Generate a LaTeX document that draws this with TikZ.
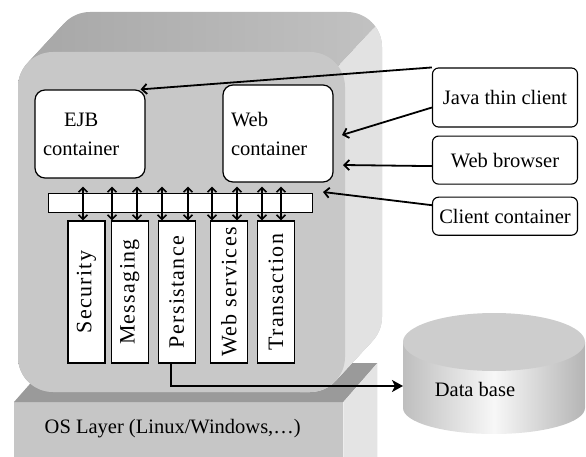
\documentclass[tikz,border=0pt]{standalone}
\usepackage{fontspec}
\setmainfont{Liberation Serif}
\usepackage{graphicx}
\usepackage{xcolor}
\usepackage{tikz}
\usetikzlibrary{arrows.meta, positioning, calc}
\definecolor{srvfront}{HTML}{C8C8C8}
\definecolor{srvtop}{HTML}{A9A9A9}
\definecolor{srvtopr}{HTML}{C2C2C2}
\definecolor{srvside}{HTML}{E2E2E2}
\definecolor{osfront}{HTML}{C6C6C6}
\definecolor{ostop}{HTML}{9A9A9A}
\definecolor{osside}{HTML}{E4E4E4}
\definecolor{dbtop}{HTML}{CDCDCD}
\definecolor{dbside}{HTML}{BEBEBE}
\newcommand{\vlabel}[1]{\rotatebox{90}{#1}}
\tikzset{
  ctr/.style={rectangle, rounded corners=10pt, draw, line width=1.2pt, fill=white, minimum width=110pt, align=left, text width=94pt, inner xsep=8pt},
  svc/.style={rectangle, draw, line width=1.1pt, fill=white, minimum width=37pt, minimum height=142pt, inner sep=0pt, font=\rmfamily\fontsize{22}{24}\selectfont\addfontfeature{LetterSpace=6}},
  client/.style={rectangle, rounded corners=6pt, draw, line width=1.1pt, fill=white, minimum width=145pt, align=center},
  arr/.style={-{Straight Barb[length=5pt,width=10pt]}, line width=1.8pt},
  dbl/.style={{Straight Barb[length=4.5pt,width=9pt]}-{Straight Barb[length=4.5pt,width=9pt]}, line width=1.6pt},
  dbarr/.style={-{Stealth[length=11pt,width=12pt,inset=3pt]}, line width=1.8pt},
}
\begin{document}
\begin{tikzpicture}[x=1pt, y=-1pt, font=\rmfamily\fontsize{20.5}{29}\selectfont]
  \useasboundingbox (0,0) rectangle (586,457);

  % OS layer block
  \node[fill=osfront, minimum width=329pt, minimum height=56pt, anchor=north west, inner sep=0pt, text depth=8pt] (os) at (14,402)
    {OS Layer (Linux/Windows,\dots)\hspace*{12pt}};
  \fill[ostop] (os.north west) -- (os.north east) -- ++(34,-39) -- ++(-329,0) -- cycle;
  \fill[osside] (os.north east) -- ++(34,-39) -- ++(0,100) -- (os.south east) -- cycle;

  % server body, extruded towards the back
  \foreach \k in {0,...,20}
    \shade[left color=srvtop, right color=srvtopr, rounded corners=35pt, shift={({\k*1.85},{-\k*2})}] (18,52) rectangle (345,392);
  \begin{scope}
    \clip (300,108) -- (400,0) -- (420,0) -- (420,460) -- (300,460) -- cycle;
    \foreach \k in {0,...,20}
      \fill[srvside, rounded corners=35pt, shift={({\k*1.85},{-\k*2})}] (18,52) rectangle (345,392);
  \end{scope}
  \fill[srvfront, rounded corners=35pt] (18,52) rectangle (345,392);

  % containers
  \node[ctr, minimum height=88pt] (ejb) at (90,134) {\hspace*{21pt}EJB\\container};
  \node[ctr, minimum height=97pt] (web) at (278,133.5) {Web\\container};
  \node[draw, fill=white, line width=0.9pt, minimum width=264pt, minimum height=19pt, inner sep=0pt] (bar) at (180,202.5) {};

  % services
  \node[svc] (sec) at (86.5,292) {\vlabel{Security}};
  \node[svc, right=5pt of sec] (msg) {\vlabel{Messaging}};
  \node[svc, right=9pt of msg] (pers) {\vlabel{Persistance}};
  \node[svc, right=14pt of pers] (ws) {\vlabel{Web services}};
  \node[svc, right=9pt of ws] (tx) {\vlabel{Transaction}};
  \foreach \x/\s in {83/sec, 112/msg, 137/msg, 162/pers, 188/pers, 212/ws, 237/ws, 262/tx, 281/tx}
    \draw[dbl] ([yshift=6pt]bar.north -| \x,0) -- (\s.north -| \x,0);

  % clients
  \node[client, minimum height=59pt] (java) at (505,97.5) {Java thin client};
  \node[client, minimum height=48pt, below=8pt of java] (browser) {Web browser};
  \node[client, minimum height=38pt, below=12pt of browser] (cli) {Client container};
  \coordinate (webin) at (342,135);
  \coordinate (webin2) at (343,165);
  \coordinate (barin) at (323,192);
  \draw[arr] (java.north west) -- ([xshift=-5pt]ejb.north east);
  \draw[arr] ([yshift=-10pt]java.west) -- (webin);
  \draw[arr] ([yshift=-6pt]browser.west) -- (webin2);
  \draw[arr] ([yshift=11pt]cli.west) -- (barin);

  % database
  \shade[left color=dbside, right color=dbside!95!black, middle color=white!97!black]
    (403,342) -- (403,408) arc[start angle=180, end angle=360, x radius=91pt, y radius=26pt] -- (585,342) -- cycle;
  \fill[dbtop] (494,342) ellipse [x radius=91pt, y radius=29pt];
  \node (db) at (475,389) {Data base};
  \coordinate (dbin) at (403,386);
  \draw[dbarr] ([xshift=-6pt]pers.south) |- (dbin);
\end{tikzpicture}
\end{document}
